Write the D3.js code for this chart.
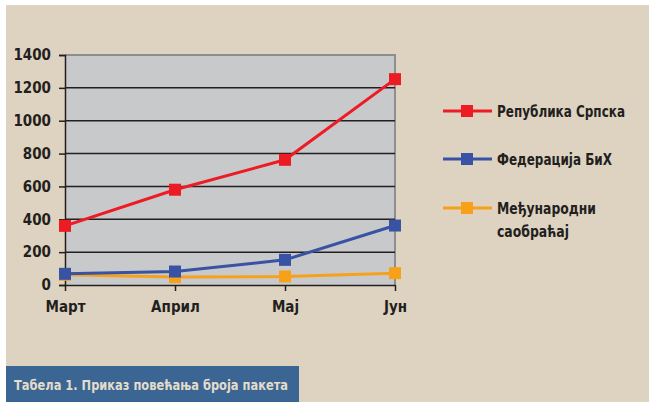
<!DOCTYPE html>
<html>
<head>
<meta charset="utf-8">
<script src="https://cdn.jsdelivr.net/npm/d3@7"></script>
<style>
  html, body { margin: 0; padding: 0; background: #fff; }
  svg { display: block; }
  text { font-family: "DejaVu Sans", sans-serif; font-stretch: condensed; font-weight: bold; fill: #231f20; }
</style>
</head>
<body>
<svg id="chart" width="649" height="402"></svg>
<script>
const months = ['Март', 'Април', 'Мај', 'Јун']
const yTicks = [0, 200, 400, 600, 800, 1000, 1200, 1400]
const seriesNames = ['Република Српска', 'Федерација БиХ', 'Међународни саобраћај']
const seriesColors = ['#ed1c24', '#3953a4', '#f7a11a']
const rsValues = [360, 580, 762, 1253]
const fbihValues = [68, 82, 153, 362]
const intlValues = [62, 48, 52, 72]
const caption = 'Табела 1. Приказ повећања броја пакета'

const series = [rsValues, fbihValues, intlValues].map((values, i) => ({
  name: seriesNames[i],
  color: seriesColors[i],
  values,
}))

const svg = d3.select('#chart')
const plot = {left: 65, right: 395, top: 55, bottom: 285}

// beige page
svg.append('rect')
  .attr('x', 6).attr('y', 5)
  .attr('width', 643).attr('height', 397)
  .attr('fill', '#ded3c1')

const x = d3.scalePoint().domain(months).range([plot.left, plot.right])
const y = d3.scaleLinear().domain([0, 1400]).range([plot.bottom, plot.top])

svg.append('rect')
  .attr('x', plot.left).attr('y', plot.top)
  .attr('width', plot.right - plot.left).attr('height', plot.bottom - plot.top)
  .attr('fill', '#c8c9cb')

// plot border top/right
svg.append('path')
  .attr('d', `M${plot.left},${plot.top}H${plot.right}V${plot.bottom}`)
  .attr('fill', 'none')
  .attr('stroke', '#8d8e90')
  .attr('stroke-width', 2)

// gridlines
svg.append('g')
  .selectAll('line')
  .data(yTicks.filter((d) => d > 0 && d < 1400))
  .enter()
  .append('line')
  .attr('x1', plot.left).attr('x2', plot.right)
  .attr('y1', (d) => y(d)).attr('y2', (d) => y(d))
  .attr('stroke', '#231f20')
  .attr('stroke-width', 1.5)

const yAxis = svg.append('g')
  .attr('transform', `translate(${plot.left},0)`)
  .call(d3.axisLeft(y).tickValues(yTicks).tickFormat(d3.format('d')).tickSize(6).tickPadding(8))
yAxis.select('.domain').attr('stroke', '#231f20').attr('stroke-width', 1.5)
yAxis.selectAll('.tick line').attr('stroke', '#231f20').attr('stroke-width', 1.5)
yAxis.selectAll('text')
  .attr('font-size', 15)
  .attr('font-family', null)
  .attr('fill', '#231f20')

const xAxis = svg.append('g')
  .attr('transform', `translate(0,${plot.bottom})`)
  .call(d3.axisBottom(x).tickSize(6).tickPadding(10).tickSizeOuter(0))
xAxis.select('.domain').attr('stroke', '#231f20').attr('stroke-width', 1.5)
xAxis.selectAll('.tick line').attr('stroke', '#231f20').attr('stroke-width', 1.5)
xAxis.selectAll('text')
  .attr('font-size', 15)
  .attr('font-family', null)
  .attr('fill', '#231f20')

// lines + markers
const line = d3.line()
  .x((d, i) => x(months[i]))
  .y((d) => y(d))

const groups = svg.append('g')
  .selectAll('g')
  .data(series.slice().reverse())
  .enter()
  .append('g')

groups.append('path')
  .attr('d', (d) => line(d.values))
  .attr('fill', 'none')
  .attr('stroke', (d) => d.color)
  .attr('stroke-width', 3)

groups.selectAll('rect')
  .data((d) => d.values.map((v, i) => ({v, i, color: d.color})))
  .enter()
  .append('rect')
  .attr('x', (d) => x(months[d.i]) - 6)
  .attr('y', (d) => y(d.v) - 6)
  .attr('width', 12)
  .attr('height', 12)
  .attr('fill', (d) => d.color)

// legend
const legendRows = [111, 159, 208]
// rough widths of the legend words in the reference, so the text fits
const legendWidths = {
  'Република Српска': 128,
  'Федерација БиХ': 115,
  'Међународни': 99,
  'саобраћај': 72,
}
const legend = svg.append('g')
  .selectAll('g')
  .data(series)
  .enter()
  .append('g')
  .attr('transform', (d, i) => `translate(443, ${legendRows[i]})`)

legend.append('line')
  .attr('x1', 0).attr('x2', 49)
  .attr('stroke', (d) => d.color)
  .attr('stroke-width', 3)
legend.append('rect')
  .attr('x', 18).attr('y', -6)
  .attr('width', 12).attr('height', 12)
  .attr('fill', (d) => d.color)

legend.append('text')
  .attr('x', 54)
  .attr('font-size', 16)
  .each(function (d) {
    const words = d.name === seriesNames[2] ? ['Међународни', 'саобраћај'] : [d.name]
    d3.select(this).selectAll('tspan')
      .data(words)
      .enter()
      .append('tspan')
      .attr('x', 54)
      .attr('dy', (w, j) => j === 0 ? '0.35em' : '23px')
      .attr('textLength', (w) => legendWidths[w])
      .attr('lengthAdjust', 'spacingAndGlyphs')
      .text((w) => w)
  })

// caption box
svg.append('rect')
  .attr('x', 6).attr('y', 366)
  .attr('width', 293).attr('height', 36)
  .attr('fill', '#3b6592')
svg.append('text')
  .attr('x', 14).attr('y', 390)
  .attr('font-size', 14)
  .attr('textLength', 274)
  .attr('lengthAdjust', 'spacingAndGlyphs')
  .style('fill', '#e4dccb')
  .text(caption)
</script>
</body>
</html>
